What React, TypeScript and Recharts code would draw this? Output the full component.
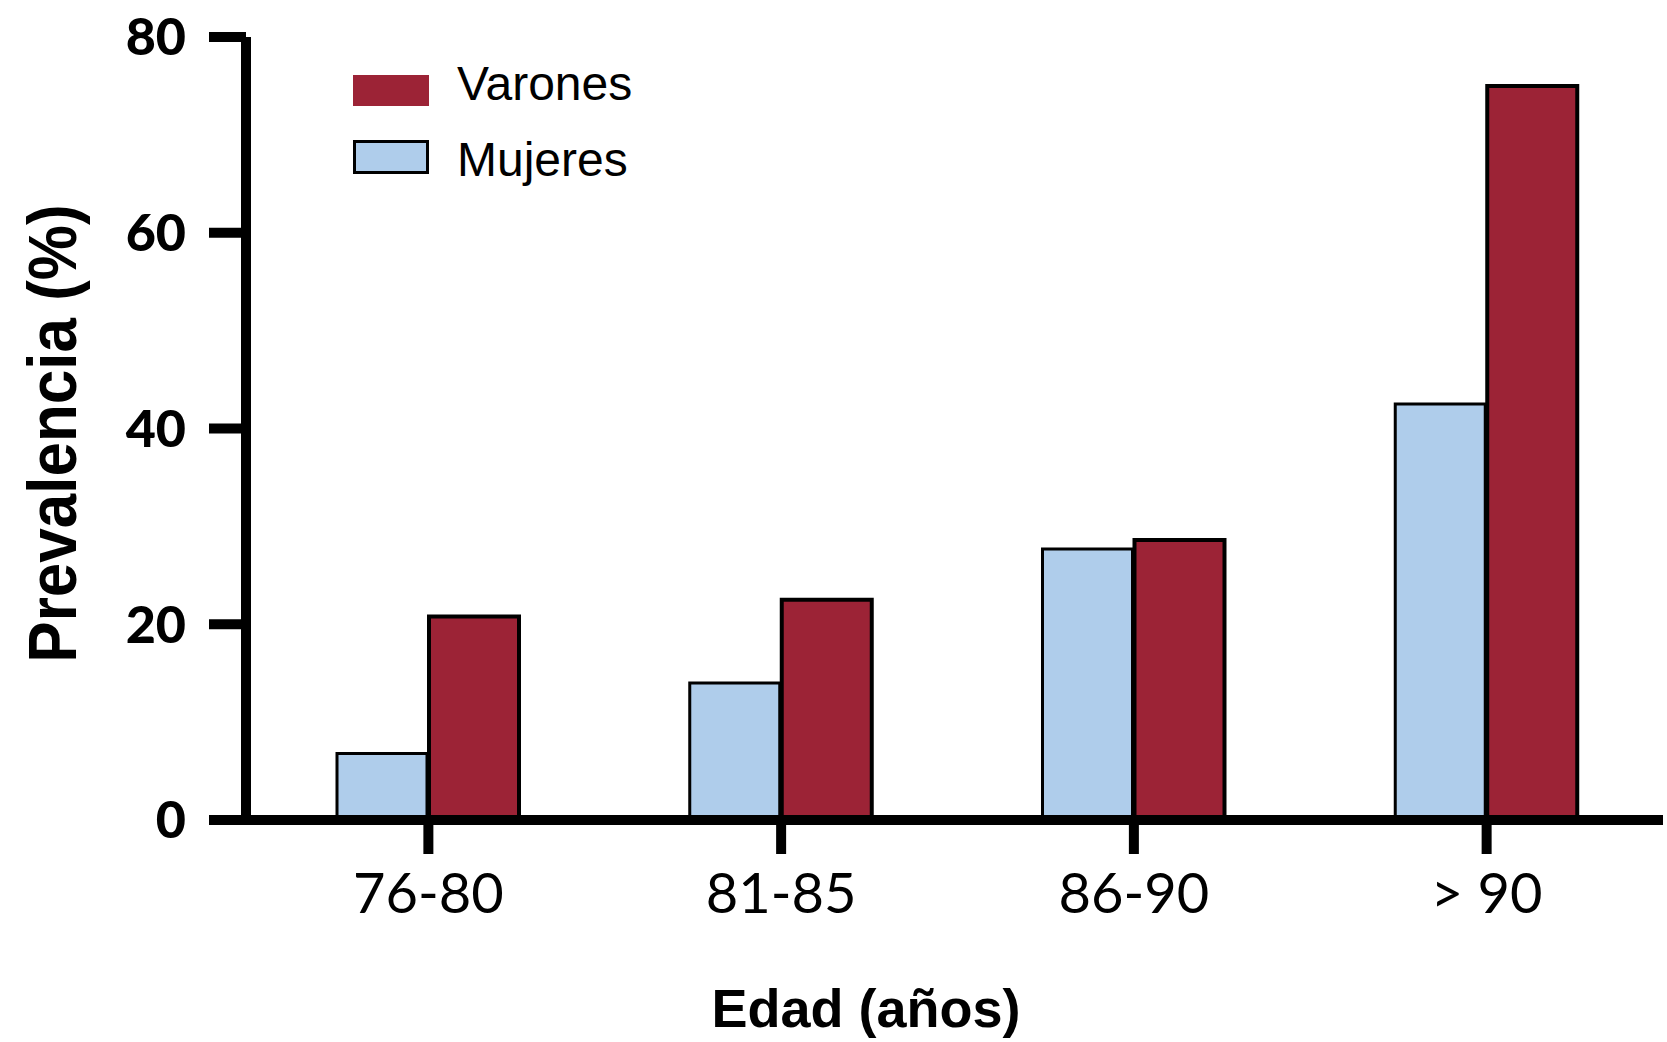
import { BarChart, Bar, XAxis, YAxis, Legend, Label } from "recharts";

const ageGroups = ["76-80", "81-85", "86-90", "> 90"];
const mujeres = [6.8, 14.0, 27.7, 42.5];
const varones = [20.8, 22.5, 28.6, 75.0];
const yTicks = [0, 20, 40, 60, 80];
const legendOrder = ["Varones", "Mujeres"];

const RED = "#9c2336";
const BLUE = "#afcdeb";
const LABEL_FONT = "'Liberation Sans', Arial, Helvetica, sans-serif";
const TICK_FONT = "Lato, 'Open Sans', sans-serif";

const data = ageGroups.map((age, i) => ({
  age,
  Mujeres: mujeres[i],
  Varones: varones[i],
}));

function ChartLegend() {
  return (
    <svg width={700} height={200} style={{ display: "block" }}>
      {legendOrder.map((name, i) => {
        const top = 75 + i * 65;
        const isRed = name === "Varones";
        return (
          <g key={name}>
            {isRed ? (
              <rect x={353} y={top} width={76} height={31} fill={RED} />
            ) : (
              <rect
                x={354.5}
                y={top + 1.5}
                width={73}
                height={31}
                fill={BLUE}
                stroke="#000"
                strokeWidth={3}
              />
            )}
            <text
              x={457}
              y={top + 25 + i * 11}
              fontSize={48}
              fontFamily={LABEL_FONT}
              fill="#000"
            >
              {name}
            </text>
          </g>
        );
      })}
    </svg>
  );
}

// rotated axis title, a bit taller than wide like the original
const renderYLabel = (props: any) => {
  const { viewBox } = props;
  const cx = viewBox.x + 51;
  const cy = viewBox.y + viewBox.height / 2 + 5;
  return (
    <text
      x={0}
      y={0}
      transform={`translate(${cx} ${cy}) rotate(-90) scale(1 1.12)`}
      textAnchor="middle"
      dy="0.36em"
      fontSize={62}
      fontWeight={700}
      fontFamily={LABEL_FONT}
      fill="#000"
    >
      Prevalencia (%)
    </text>
  );
};

const renderXLabel = (props: any) => {
  const { viewBox } = props;
  return (
    <text
      x={viewBox.x + 620}
      y={viewBox.y + 207}
      textAnchor="middle"
      fontSize={54}
      fontWeight={700}
      fontFamily={LABEL_FONT}
      fill="#000"
    >
      Edad (años)
    </text>
  );
};

export default function App() {
  return (
    <div style={{ position: "absolute", left: 0, top: 0, background: "#fff" }}>
      <BarChart
        width={1667}
        height={1042}
        data={data}
        margin={{ top: 37, right: 4, bottom: 0, left: 0 }}
        barSize={90}
        barGap={2}
      >
        <XAxis
          dataKey="age"
          height={222}
          padding={{ left: 6, right: 0 }}
          axisLine={{ stroke: "#000", strokeWidth: 10 }}
          tickLine={{ stroke: "#000", strokeWidth: 10 }}
          tickSize={34}
          tickMargin={19}
          tick={{ fill: "#000", fontSize: 56, fontFamily: TICK_FONT }}
        >
          <Label content={renderXLabel} />
        </XAxis>
        <YAxis
          width={246}
          domain={[0, 80]}
          ticks={yTicks}
          interval={0}
          axisLine={{ stroke: "#000", strokeWidth: 10 }}
          tickLine={{ stroke: "#000", strokeWidth: 10 }}
          tickSize={37}
          tickMargin={23}
          tick={{
            fill: "#000",
            fontSize: 52,
            fontWeight: 900,
            fontFamily: TICK_FONT,
          }}
        >
          <Label content={renderYLabel} />
        </YAxis>
        <Legend
          layout="horizontal"
          verticalAlign="middle"
          align="center"
          content={() => <ChartLegend />}
          wrapperStyle={{ position: "absolute", left: 0, top: 0, width: 700, height: 200 }}
        />
        <Bar
          dataKey="Mujeres"
          fill={BLUE}
          stroke="#000"
          strokeWidth={3}
          isAnimationActive={false}
        />
        <Bar
          dataKey="Varones"
          fill={RED}
          stroke="#000"
          strokeWidth={4}
          isAnimationActive={false}
        />
      </BarChart>
    </div>
  );
}
